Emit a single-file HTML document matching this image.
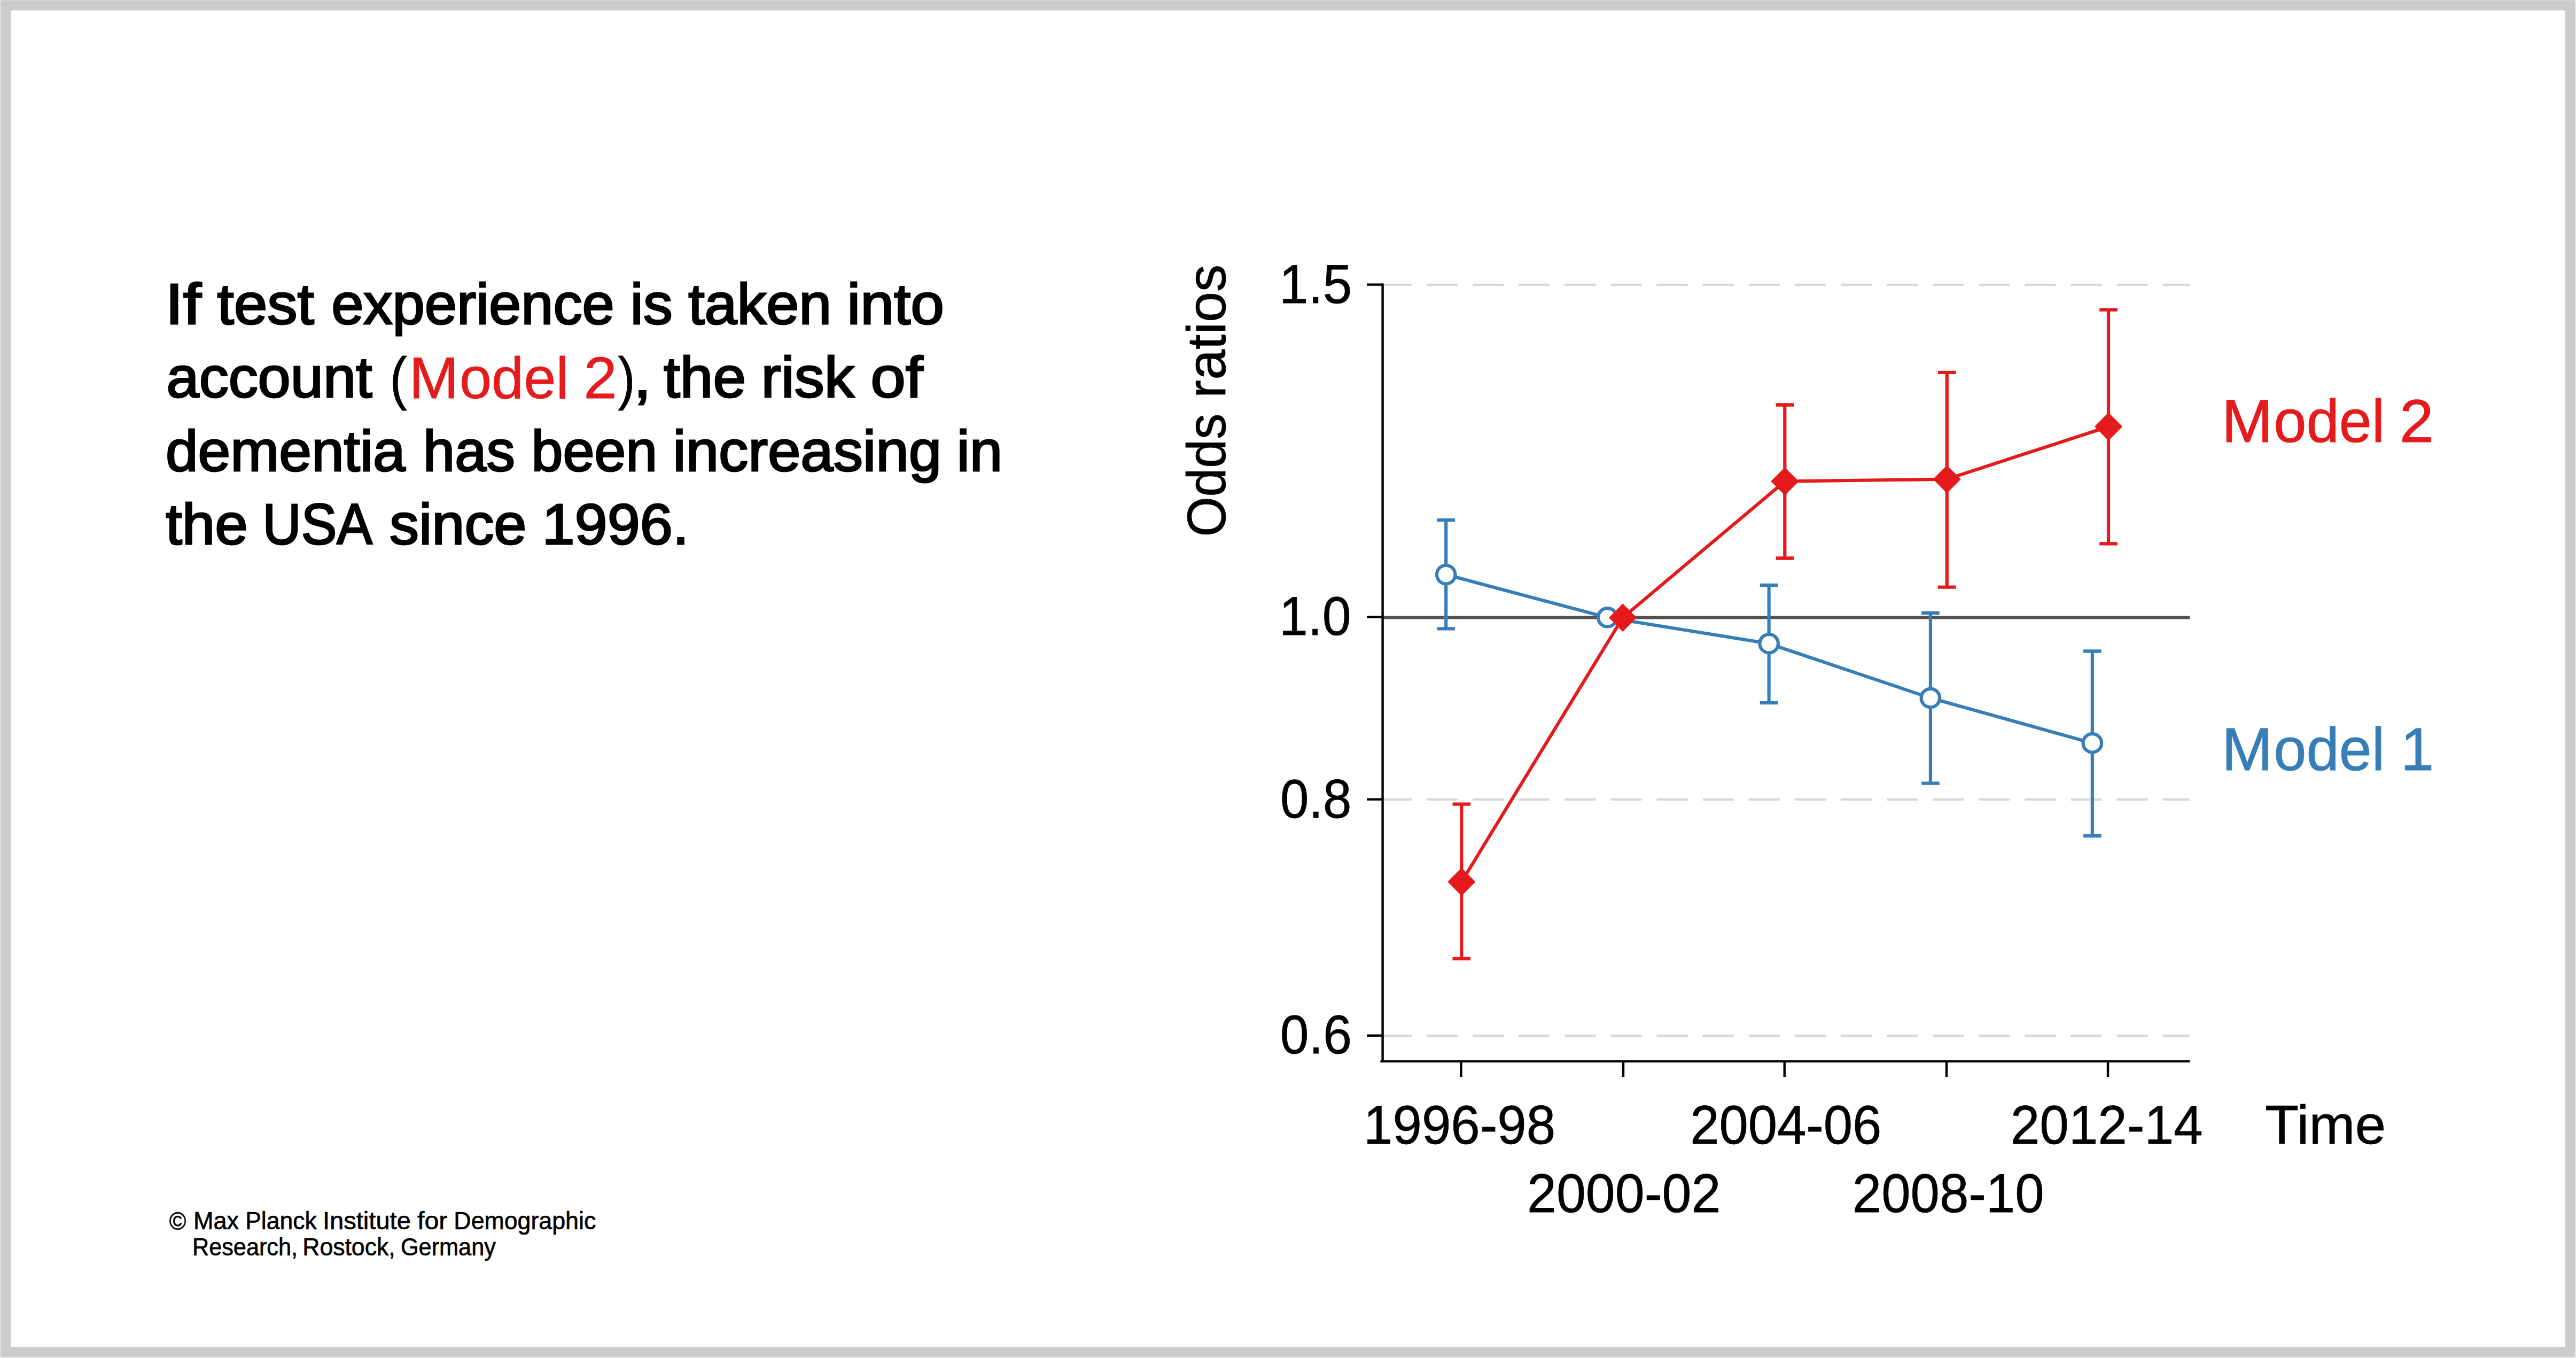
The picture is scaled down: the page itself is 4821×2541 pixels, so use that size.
<!DOCTYPE html>
<html lang="en"><head><meta charset="utf-8"><title>Dementia risk chart</title>
<style>html,body{margin:0;padding:0;background:#fff}body{width:4821px;height:2541px;overflow:hidden}</style></head>
<body>
<svg width="4821" height="2541" viewBox="0 0 4821 2541" style="display:block;font-family:'Liberation Sans',sans-serif">
<rect x="0" y="0" width="4821" height="2541" fill="#fff"/>
<path fill="#ccc" fill-rule="evenodd" d="M0.6 0.3 H4820 V2540 H0.6 Z M20.2 19.6 V2520.2 H4800.7 V19.6 Z"/>
<line x1="2583.79" y1="532.80" x2="4098.0" y2="532.80" stroke="#d8d8d8" stroke-width="4.2" stroke-dasharray="58.4 27.7"/>
<line x1="2583.79" y1="1495.9" x2="4098.0" y2="1495.9" stroke="#d8d8d8" stroke-width="4.2" stroke-dasharray="58.4 27.7"/>
<line x1="2583.79" y1="1937.9" x2="4098.0" y2="1937.9" stroke="#d8d8d8" stroke-width="4.2" stroke-dasharray="58.4 27.7"/>
<line x1="2587.6" y1="1155.5" x2="4098.0" y2="1155.5" stroke="#525252" stroke-width="6.2"/>
<g stroke="#000" stroke-width="4.4" fill="none">
<path d="M2587.6 530.4 V1988.10"/>
<path d="M2583.4 1985.9 H4098.0"/>
<path d="M2558.1 532.6 H2587.6"/>
<path d="M2558.1 1154.6 H2587.6"/>
<path d="M2558.1 1495.7 H2587.6"/>
<path d="M2558.1 1937.7 H2587.6"/>
<path d="M2734.4 1985.9 V2015.10"/>
<path d="M3038.0 1985.9 V2015.10"/>
<path d="M3339.7 1985.9 V2015.10"/>
<path d="M3642.9 1985.9 V2015.10"/>
<path d="M3945.0 1985.9 V2015.10"/>
</g>
<g stroke="#377eb8" fill="none" stroke-width="6.2">
<polyline points="2706.2,1075.1 3008.3,1155.4 3310.6,1204.2 3612.9,1306.1 3915.8,1390.4"/>
<path stroke-width="6.2" d="M2706.2 973.2 V1176.4"/>
<path stroke-width="6.3" d="M2689.39 973.2 H2723.0 M2689.39 1176.4 H2723.0"/>
<path stroke-width="6.2" d="M3310.6 1095.0 V1315.1"/>
<path stroke-width="6.3" d="M3293.79 1095.0 H3327.4 M3293.79 1315.1 H3327.4"/>
<path stroke-width="6.2" d="M3612.9 1147.0 V1465.6"/>
<path stroke-width="6.3" d="M3596.1 1147.0 H3629.70 M3596.1 1465.6 H3629.70"/>
<path stroke-width="6.2" d="M3915.8 1218.5 V1564.0"/>
<path stroke-width="6.3" d="M3899.0 1218.5 H3932.60 M3899.0 1564.0 H3932.60"/>
</g>
<circle cx="2706.2" cy="1075.1" r="17.3" fill="#fff" stroke="#377eb8" stroke-width="6.2"/>
<circle cx="3008.3" cy="1155.4" r="17.3" fill="#fff" stroke="#377eb8" stroke-width="6.2"/>
<circle cx="3310.6" cy="1204.2" r="17.3" fill="#fff" stroke="#377eb8" stroke-width="6.2"/>
<circle cx="3612.9" cy="1306.1" r="17.3" fill="#fff" stroke="#377eb8" stroke-width="6.2"/>
<circle cx="3915.8" cy="1390.4" r="17.3" fill="#fff" stroke="#377eb8" stroke-width="6.2"/>
<g stroke="#e41a1c" fill="none" stroke-width="6.2">
<polyline points="2735.3,1650.0 3037.0,1155.7 3340.3,900.7 3643.7,896.6 3946.0,798.2"/>
<path stroke-width="6.2" d="M2735.3 1504.6 V1793.8"/>
<path stroke-width="6.3" d="M2718.5 1504.6 H2752.10 M2718.5 1793.8 H2752.10"/>
<path stroke-width="6.2" d="M3340.3 757.5 V1044.5"/>
<path stroke-width="6.3" d="M3323.5 757.5 H3357.10 M3323.5 1044.5 H3357.10"/>
<path stroke-width="6.2" d="M3643.7 696.9 V1098.7"/>
<path stroke-width="6.3" d="M3626.89 696.9 H3660.5 M3626.89 1098.7 H3660.5"/>
<path stroke-width="6.2" d="M3946.0 579.6 V1017.4"/>
<path stroke-width="6.3" d="M3929.2 579.6 H3962.8 M3929.2 1017.4 H3962.8"/>
</g>
<path fill="#e41a1c" stroke="#e41a1c" stroke-width="2.4" stroke-linejoin="round" d="M2735.3 1625.4 L2759.70 1650.0 L2735.3 1674.6 L2710.9 1650.0 Z"/>
<path fill="#e41a1c" stroke="#e41a1c" stroke-width="2.4" stroke-linejoin="round" d="M3037.0 1131.10 L3061.4 1155.7 L3037.0 1180.3 L3012.6 1155.7 Z"/>
<path fill="#e41a1c" stroke="#e41a1c" stroke-width="2.4" stroke-linejoin="round" d="M3340.3 876.1 L3364.70 900.7 L3340.3 925.30 L3315.9 900.7 Z"/>
<path fill="#e41a1c" stroke="#e41a1c" stroke-width="2.4" stroke-linejoin="round" d="M3643.7 872.0 L3668.1 896.6 L3643.7 921.2 L3619.29 896.6 Z"/>
<path fill="#e41a1c" stroke="#e41a1c" stroke-width="2.4" stroke-linejoin="round" d="M3946.0 773.6 L3970.4 798.2 L3946.0 822.80 L3921.6 798.2 Z"/>
<text><tspan x="309.31" y="606.20" textLength="67.62" lengthAdjust="spacingAndGlyphs" style="font-size:107.12px;fill:#000;stroke:#000;stroke-width:3.0px">If</tspan> <tspan x="406.40" y="606.20" textLength="181.39" lengthAdjust="spacingAndGlyphs" style="font-size:107.12px;fill:#000;stroke:#000;stroke-width:3.0px">test</tspan> <tspan x="620.17" y="606.20" textLength="529.66" lengthAdjust="spacingAndGlyphs" style="font-size:107.12px;fill:#000;stroke:#000;stroke-width:3.0px">experience</tspan> <tspan x="1179.59" y="606.20" textLength="79.13" lengthAdjust="spacingAndGlyphs" style="font-size:107.12px;fill:#000;stroke:#000;stroke-width:3.0px">is</tspan> <tspan x="1288.20" y="606.20" textLength="267.94" lengthAdjust="spacingAndGlyphs" style="font-size:107.12px;fill:#000;stroke:#000;stroke-width:3.0px">taken</tspan> <tspan x="1585.34" y="606.20" textLength="181.60" lengthAdjust="spacingAndGlyphs" style="font-size:107.12px;fill:#000;stroke:#000;stroke-width:3.0px">into</tspan></text>
<text><tspan x="311.52" y="743.40" textLength="385.11" lengthAdjust="spacingAndGlyphs" style="font-size:107.12px;fill:#000;stroke:#000;stroke-width:3.0px">account</tspan> <tspan x="729.54" y="744.50" textLength="32.25" lengthAdjust="spacingAndGlyphs" style="font-size:110.32px;fill:#000;stroke:#000;stroke-width:0.8px">(</tspan><tspan x="765.50" y="744.50" textLength="93.01" lengthAdjust="spacingAndGlyphs" style="font-size:110.32px;fill:#e41a1c;stroke:#e41a1c;stroke-width:0.8px">M</tspan><tspan x="859.88" y="744.50" textLength="204.56" lengthAdjust="spacingAndGlyphs" style="font-size:110.32px;fill:#e41a1c;stroke:#e41a1c;stroke-width:0.8px">odel</tspan> <tspan x="1092.30" y="744.50" textLength="62.56" lengthAdjust="spacingAndGlyphs" style="font-size:110.32px;fill:#e41a1c;stroke:#e41a1c;stroke-width:0.8px">2</tspan><tspan x="1156.50" y="744.50" textLength="32.25" lengthAdjust="spacingAndGlyphs" style="font-size:110.32px;fill:#000;stroke:#000;stroke-width:0.8px">)</tspan><tspan x="1185.65" y="743.40" textLength="32.94" lengthAdjust="spacingAndGlyphs" style="font-size:107.12px;fill:#000;stroke:#000;stroke-width:3.0px">,</tspan> <tspan x="1242.10" y="743.40" textLength="153.90" lengthAdjust="spacingAndGlyphs" style="font-size:107.12px;fill:#000;stroke:#000;stroke-width:3.0px">the</tspan> <tspan x="1424.58" y="743.40" textLength="174.05" lengthAdjust="spacingAndGlyphs" style="font-size:107.12px;fill:#000;stroke:#000;stroke-width:3.0px">risk</tspan> <tspan x="1629.20" y="743.40" textLength="98.16" lengthAdjust="spacingAndGlyphs" style="font-size:107.12px;fill:#000;stroke:#000;stroke-width:3.0px">of</tspan></text>
<text><tspan x="309.94" y="880.50" textLength="448.86" lengthAdjust="spacingAndGlyphs" style="font-size:107.12px;fill:#000;stroke:#000;stroke-width:3.0px">dementia</tspan> <tspan x="791.83" y="880.50" textLength="171.97" lengthAdjust="spacingAndGlyphs" style="font-size:107.12px;fill:#000;stroke:#000;stroke-width:3.0px">has</tspan> <tspan x="994.56" y="880.50" textLength="235.46" lengthAdjust="spacingAndGlyphs" style="font-size:107.12px;fill:#000;stroke:#000;stroke-width:3.0px">been</tspan> <tspan x="1259.25" y="880.50" textLength="502.82" lengthAdjust="spacingAndGlyphs" style="font-size:107.12px;fill:#000;stroke:#000;stroke-width:3.0px">increasing</tspan> <tspan x="1790.34" y="880.50" textLength="86.00" lengthAdjust="spacingAndGlyphs" style="font-size:107.12px;fill:#000;stroke:#000;stroke-width:3.0px">in</tspan></text>
<text><tspan x="310.00" y="1017.50" textLength="153.90" lengthAdjust="spacingAndGlyphs" style="font-size:107.12px;fill:#000;stroke:#000;stroke-width:3.0px">the</tspan> <tspan x="491.61" y="1017.50" textLength="205.14" lengthAdjust="spacingAndGlyphs" style="font-size:107.12px;fill:#000;stroke:#000;stroke-width:3.0px">USA</tspan> <tspan x="729.07" y="1017.50" textLength="256.35" lengthAdjust="spacingAndGlyphs" style="font-size:107.12px;fill:#000;stroke:#000;stroke-width:3.0px">since</tspan> <tspan x="1014.55" y="1017.50" textLength="274.80" lengthAdjust="spacingAndGlyphs" style="font-size:107.12px;fill:#000;stroke:#000;stroke-width:3.0px">1996.</tspan></text>
<text><tspan x="4157.83" y="827.40" textLength="95.66" lengthAdjust="spacingAndGlyphs" style="font-size:113.95px;fill:#e41a1c;stroke:#e41a1c;stroke-width:1.0px">M</tspan><tspan x="4255.24" y="827.40" textLength="208.03" lengthAdjust="spacingAndGlyphs" style="font-size:113.95px;fill:#e41a1c;stroke:#e41a1c;stroke-width:1.0px">odel</tspan> <tspan x="4490.86" y="827.40" textLength="63.85" lengthAdjust="spacingAndGlyphs" style="font-size:113.95px;fill:#e41a1c;stroke:#e41a1c;stroke-width:1.0px">2</tspan></text>
<text><tspan x="4157.83" y="1441.30" textLength="95.66" lengthAdjust="spacingAndGlyphs" style="font-size:113.95px;fill:#377eb8;stroke:#377eb8;stroke-width:1.0px">M</tspan><tspan x="4255.24" y="1441.30" textLength="208.03" lengthAdjust="spacingAndGlyphs" style="font-size:113.95px;fill:#377eb8;stroke:#377eb8;stroke-width:1.0px">odel</tspan> <tspan x="4492.81" y="1441.30" textLength="62.49" lengthAdjust="spacingAndGlyphs" style="font-size:113.95px;fill:#377eb8;stroke:#377eb8;stroke-width:1.0px">1</tspan></text>
<text><tspan x="2394.00" y="566.70" textLength="136.23" lengthAdjust="spacingAndGlyphs" style="font-size:102.33px;fill:#000;stroke:#000;stroke-width:0.8px">1.5</tspan></text>
<text><tspan x="2394.09" y="1187.50" textLength="134.29" lengthAdjust="spacingAndGlyphs" style="font-size:102.33px;fill:#000;stroke:#000;stroke-width:0.8px">1.0</tspan></text>
<text><tspan x="2395.89" y="1529.80" textLength="133.41" lengthAdjust="spacingAndGlyphs" style="font-size:102.33px;fill:#000;stroke:#000;stroke-width:0.8px">0.8</tspan></text>
<text><tspan x="2395.87" y="1971.10" textLength="134.15" lengthAdjust="spacingAndGlyphs" style="font-size:102.33px;fill:#000;stroke:#000;stroke-width:0.8px">0.6</tspan></text>
<text><tspan x="2552.11" y="2139.80" textLength="358.98" lengthAdjust="spacingAndGlyphs" style="font-size:102.33px;fill:#000;stroke:#000;stroke-width:0.8px">1996-98</tspan> <tspan x="3163.18" y="2139.80" textLength="358.20" lengthAdjust="spacingAndGlyphs" style="font-size:102.33px;fill:#000;stroke:#000;stroke-width:0.8px">2004-06</tspan> <tspan x="3762.77" y="2139.80" textLength="359.67" lengthAdjust="spacingAndGlyphs" style="font-size:102.33px;fill:#000;stroke:#000;stroke-width:0.8px">2012-14</tspan></text>
<text><tspan x="2858.04" y="2268.20" textLength="362.35" lengthAdjust="spacingAndGlyphs" style="font-size:102.33px;fill:#000;stroke:#000;stroke-width:0.8px">2000-02</tspan> <tspan x="3466.78" y="2268.20" textLength="358.81" lengthAdjust="spacingAndGlyphs" style="font-size:102.33px;fill:#000;stroke:#000;stroke-width:0.8px">2008-10</tspan></text>
<text><tspan x="4238.98" y="2139.80" textLength="225.95" lengthAdjust="spacingAndGlyphs" style="font-size:102.33px;fill:#000;stroke:#000;stroke-width:0.8px">Time</tspan></text>
<text><tspan x="316.70" y="2300.85" textLength="31.45" lengthAdjust="spacingAndGlyphs" style="font-size:45.78px;fill:#000;stroke:#000;stroke-width:0.7px">©</tspan> <tspan x="361.95" y="2300.45" textLength="85.11" lengthAdjust="spacingAndGlyphs" style="font-size:45.78px;fill:#000;stroke:#000;stroke-width:0.7px">Max</tspan> <tspan x="459.18" y="2300.45" textLength="133.51" lengthAdjust="spacingAndGlyphs" style="font-size:45.78px;fill:#000;stroke:#000;stroke-width:0.7px">Planck</tspan> <tspan x="603.99" y="2300.45" textLength="164.83" lengthAdjust="spacingAndGlyphs" style="font-size:45.78px;fill:#000;stroke:#000;stroke-width:0.7px">Institute</tspan> <tspan x="781.10" y="2300.45" textLength="56.34" lengthAdjust="spacingAndGlyphs" style="font-size:45.78px;fill:#000;stroke:#000;stroke-width:0.7px">for</tspan> <tspan x="849.37" y="2300.45" textLength="265.89" lengthAdjust="spacingAndGlyphs" style="font-size:45.78px;fill:#000;stroke:#000;stroke-width:0.7px">Demographic</tspan></text>
<text><tspan x="359.97" y="2348.55" textLength="197.03" lengthAdjust="spacingAndGlyphs" style="font-size:45.78px;fill:#000;stroke:#000;stroke-width:0.7px">Research,</tspan> <tspan x="566.18" y="2348.55" textLength="173.49" lengthAdjust="spacingAndGlyphs" style="font-size:45.78px;fill:#000;stroke:#000;stroke-width:0.7px">Rostock,</tspan> <tspan x="749.91" y="2348.55" textLength="177.94" lengthAdjust="spacingAndGlyphs" style="font-size:45.78px;fill:#000;stroke:#000;stroke-width:0.7px">Germany</tspan></text>
<text transform="translate(2292.80,0) rotate(-90)" style="font-size:102.33px;fill:#000;stroke:#000;stroke-width:0.8px"><tspan x="-1004.58" y="0" textLength="230.93" lengthAdjust="spacingAndGlyphs">Odds</tspan> <tspan x="-744.90" y="0" textLength="250.03" lengthAdjust="spacingAndGlyphs">ratios</tspan></text>
</svg>
</body></html>
